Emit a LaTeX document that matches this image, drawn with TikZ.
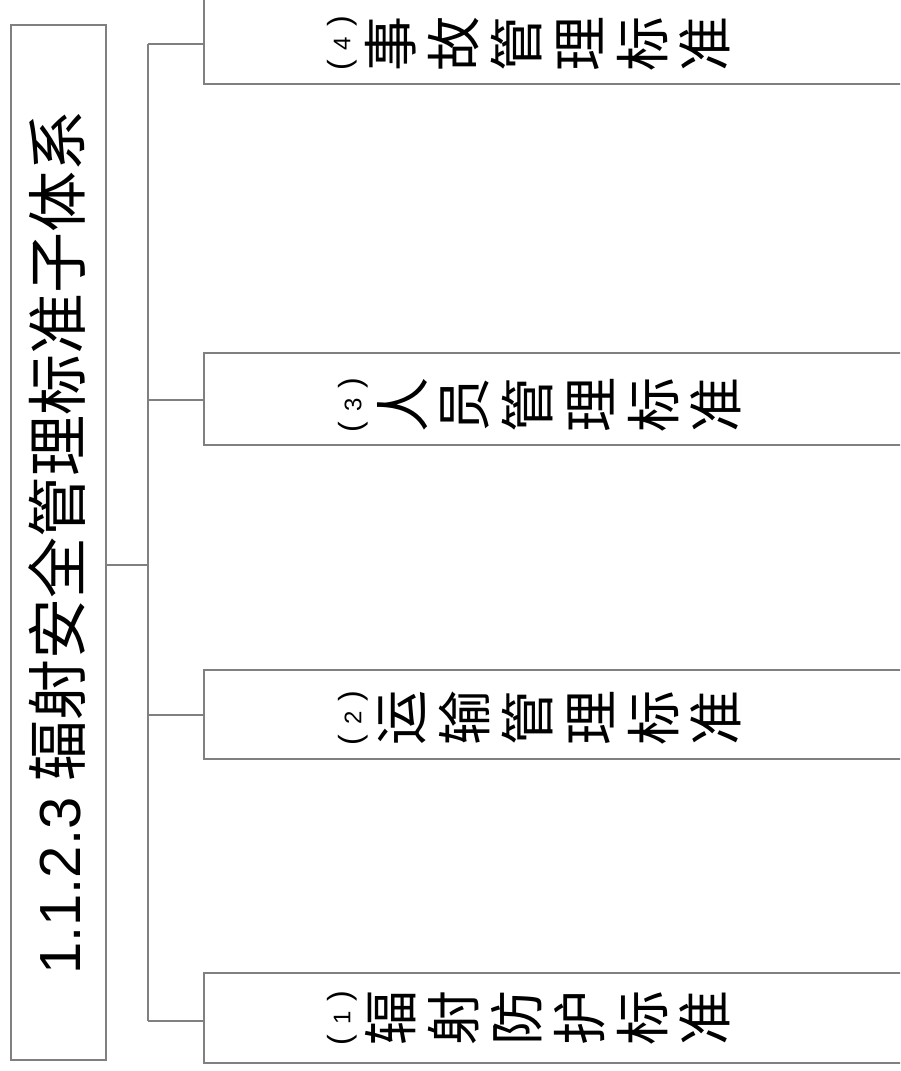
\documentclass[tikz,border=0pt]{standalone}
\usepackage{fontspec}
\usepackage{graphicx}
\setmainfont{Liberation Sans}
\newfontfamily\cjk{Noto Sans CJK SC}
\newcommand\rch[1]{\raisebox{-0.5\height}{\rotatebox{90}{#1}}}
\newcommand\pcell[1]{\makebox[35pt]{\rch{\fontsize{32}{32}\selectfont(\hspace{10pt}{\fontsize{24}{24}\selectfont #1}\hspace{10pt})}}}
\newcommand\ccell[1]{\makebox[62.8pt]{\rch{\cjk\fontsize{55}{55}\selectfont #1}}}
\newcommand\sublabel[7]{\pcell{#1}\ccell{#2}\ccell{#3}\ccell{#4}\ccell{#5}\ccell{#6}\ccell{#7}}
\definecolor{lc}{gray}{0.5}
\tikzset{
  box/.style={draw=lc, line width=1.5pt, inner sep=0pt, rectangle},
  conn/.style={draw=lc, line width=1.5pt},
  lbl/.style={inner sep=0pt, anchor=west, text=black}
}
\begin{document}
\begin{tikzpicture}[x=1pt,y=-1pt]
\useasboundingbox (0,0) rectangle (900,1071);
\clip (0,0) rectangle (900,1071);
\fill[white] (0,0) rectangle (900,1071);
% main box
\node[box, minimum width=95pt, minimum height=1035pt] (main) at (58.5,542.5) {};
\node[inner sep=0pt, rotate=90] (maintext) at (57,542.5)
  {\fontsize{58}{58}\selectfont 1.1.2.3 {\cjk\fontsize{61}{61}\selectfont 辐射安全管理标准子体系}};
% sub boxes
\node[box, minimum width=706pt, minimum height=87pt] (b4) at (557,40.5) {};
\node[box, minimum width=706pt, minimum height=92pt] (b3) at (557,399) {};
\node[box, minimum width=706pt, minimum height=89pt] (b2) at (557,714.5) {};
\node[box, minimum width=706pt, minimum height=90pt] (b1) at (557,1018) {};
% labels
\node[lbl] (l4) at (324.5,43.5) {\sublabel{4}{事}{故}{管}{理}{标}{准}};
\node[lbl] (l3) at (335.5,405) {\sublabel{3}{人}{员}{管}{理}{标}{准}};
\node[lbl] (l2) at (335.5,718) {\sublabel{2}{运}{输}{管}{理}{标}{准}};
\node[lbl] (l1) at (324.5,1018) {\sublabel{1}{辐}{射}{防}{护}{标}{准}};
% connectors
\coordinate (j) at (148,565);
\coordinate (t4) at (148,44);
\coordinate (t3) at (148,400);
\coordinate (t2) at (148,715);
\coordinate (t1) at (148,1021);
\draw[conn] (j -| main.east) -- (j);
\draw[conn] (t4) -- (t1);
\draw[conn] (t4) -- (t4 -| b4.west);
\draw[conn] (t3) -- (t3 -| b3.west);
\draw[conn] (t2) -- (t2 -| b2.west);
\draw[conn] (t1) -- (t1 -| b1.west);
\end{tikzpicture}
\end{document}
